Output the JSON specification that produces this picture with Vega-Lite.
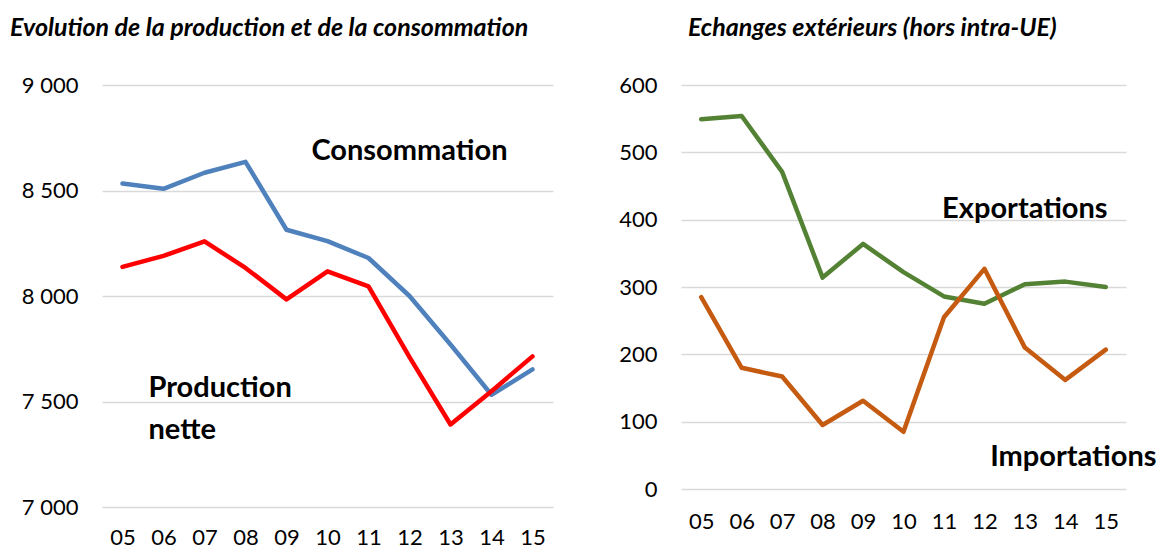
{
  "$schema": "https://vega.github.io/schema/vega-lite/v6.json",
  "background": "white",
  "padding": {"left": 10, "top": 16, "right": 0, "bottom": 0},
  "spacing": 65,
  "resolve": {"scale": {"color": "independent"}},
  "config": {
    "font": "Lato",
    "view": {"stroke": null},
    "axis": {
      "domain": false,
      "ticks": false,
      "labelFont": "Lato",
      "labelFontSize": 22,
      "labelColor": "#000000",
      "gridColor": "#d9d9d9",
      "gridWidth": 1.5,
      "title": null
    },
    "title": {"font": "Lato", "fontSize": 25, "fontStyle": "italic", "fontWeight": "bold", "color": "#000000", "anchor": "start", "frame": "group"}
  },
  "hconcat": [
    {
      "width": 451,
      "height": 422,
      "title": {"text": "Evolution de la production et de la consommation", "dx": -92, "offset": 33},
      "layer": [
        {
          "data": {"values": [
            {"annee": "05", "serie": "Consommation", "valeur": 8533},
            {"annee": "06", "serie": "Consommation", "valeur": 8508},
            {"annee": "07", "serie": "Consommation", "valeur": 8584},
            {"annee": "08", "serie": "Consommation", "valeur": 8636},
            {"annee": "09", "serie": "Consommation", "valeur": 8314},
            {"annee": "10", "serie": "Consommation", "valeur": 8260},
            {"annee": "11", "serie": "Consommation", "valeur": 8180},
            {"annee": "12", "serie": "Consommation", "valeur": 8000},
            {"annee": "13", "serie": "Consommation", "valeur": 7770},
            {"annee": "14", "serie": "Consommation", "valeur": 7532},
            {"annee": "15", "serie": "Consommation", "valeur": 7652},
            {"annee": "05", "serie": "Production nette", "valeur": 8138},
            {"annee": "06", "serie": "Production nette", "valeur": 8190},
            {"annee": "07", "serie": "Production nette", "valeur": 8259},
            {"annee": "08", "serie": "Production nette", "valeur": 8133},
            {"annee": "09", "serie": "Production nette", "valeur": 7984},
            {"annee": "10", "serie": "Production nette", "valeur": 8117},
            {"annee": "11", "serie": "Production nette", "valeur": 8046},
            {"annee": "12", "serie": "Production nette", "valeur": 7710},
            {"annee": "13", "serie": "Production nette", "valeur": 7391},
            {"annee": "14", "serie": "Production nette", "valeur": 7549},
            {"annee": "15", "serie": "Production nette", "valeur": 7714}
          ]},
          "mark": {"type": "line", "strokeWidth": 4.5, "strokeJoin": "round", "strokeCap": "round"},
          "encoding": {
            "x": {"field": "annee", "type": "ordinal", "scale": {"type": "point", "padding": 0.5}, "axis": {"labelAngle": 0, "grid": false, "labelPadding": 20}},
            "y": {"field": "valeur", "type": "quantitative", "scale": {"domain": [7000, 9000], "nice": false}, "axis": {"values": [7000, 7500, 8000, 8500, 9000], "labelPadding": 24, "labelExpr": "replace(format(datum.value, ','), ',', ' ')"}},
            "color": {"field": "serie", "type": "nominal", "scale": {"domain": ["Consommation", "Production nette"], "range": ["#4f81bd", "#ff0000"]}, "legend": null}
          }
        },
        {
          "data": {"values": [
            {"annee": "12", "valeur": 8687, "label": "Consommation"}
          ]},
          "mark": {"type": "text", "font": "Lato", "fontSize": 29, "fontWeight": "bold", "color": "#000000", "align": "center", "baseline": "middle"},
          "encoding": {
            "x": {"field": "annee", "type": "ordinal"},
            "y": {"field": "valeur", "type": "quantitative"},
            "text": {"field": "label"}
          }
        },
        {
          "data": {"values": [
            {"annee": "06", "valeur": 7564, "label": ["Production", "nette"]}
          ]},
          "mark": {"type": "text", "font": "Lato", "fontSize": 29, "fontWeight": "bold", "color": "#000000", "align": "left", "baseline": "middle", "dx": -15, "lineHeight": 42},
          "encoding": {
            "x": {"field": "annee", "type": "ordinal"},
            "y": {"field": "valeur", "type": "quantitative"},
            "text": {"field": "label"}
          }
        }
      ]
    },
    {
      "width": 445,
      "height": 404,
      "title": {"text": "Echanges extérieurs (hors intra-UE)", "dx": 7, "offset": 33},
      "layer": [
        {
          "data": {"values": [
            {"annee": "05", "serie": "Exportations", "valeur": 549},
            {"annee": "06", "serie": "Exportations", "valeur": 554},
            {"annee": "07", "serie": "Exportations", "valeur": 471},
            {"annee": "08", "serie": "Exportations", "valeur": 314},
            {"annee": "09", "serie": "Exportations", "valeur": 364},
            {"annee": "10", "serie": "Exportations", "valeur": 322},
            {"annee": "11", "serie": "Exportations", "valeur": 286},
            {"annee": "12", "serie": "Exportations", "valeur": 275},
            {"annee": "13", "serie": "Exportations", "valeur": 304},
            {"annee": "14", "serie": "Exportations", "valeur": 308},
            {"annee": "15", "serie": "Exportations", "valeur": 300},
            {"annee": "05", "serie": "Importations", "valeur": 285},
            {"annee": "06", "serie": "Importations", "valeur": 180},
            {"annee": "07", "serie": "Importations", "valeur": 167},
            {"annee": "08", "serie": "Importations", "valeur": 95},
            {"annee": "09", "serie": "Importations", "valeur": 131},
            {"annee": "10", "serie": "Importations", "valeur": 85},
            {"annee": "11", "serie": "Importations", "valeur": 255},
            {"annee": "12", "serie": "Importations", "valeur": 327},
            {"annee": "13", "serie": "Importations", "valeur": 210},
            {"annee": "14", "serie": "Importations", "valeur": 162},
            {"annee": "15", "serie": "Importations", "valeur": 207}
          ]},
          "mark": {"type": "line", "strokeWidth": 4.5, "strokeJoin": "round", "strokeCap": "round"},
          "encoding": {
            "x": {"field": "annee", "type": "ordinal", "scale": {"type": "point", "padding": 0.5}, "axis": {"labelAngle": 0, "grid": false, "labelPadding": 22}},
            "y": {"field": "valeur", "type": "quantitative", "scale": {"domain": [0, 600], "nice": false}, "axis": {"values": [0, 100, 200, 300, 400, 500, 600], "labelPadding": 24}},
            "color": {"field": "serie", "type": "nominal", "scale": {"domain": ["Exportations", "Importations"], "range": ["#548235", "#c55a11"]}, "legend": null}
          }
        },
        {
          "data": {"values": [
            {"annee": "13", "valeur": 416, "label": "Exportations", "decalage": 0},
            {"annee": "14", "valeur": 48, "label": "Importations", "decalage": 8}
          ]},
          "mark": {"type": "text", "font": "Lato", "fontSize": 29, "fontWeight": "bold", "color": "#000000", "align": "center", "baseline": "middle"},
          "encoding": {
            "x": {"field": "annee", "type": "ordinal"},
            "y": {"field": "valeur", "type": "quantitative"},
            "text": {"field": "label"},
            "xOffset": {"field": "decalage", "type": "quantitative", "scale": {"domain": [0, 8], "range": [0, 8]}}
          }
        }
      ]
    }
  ]
}
